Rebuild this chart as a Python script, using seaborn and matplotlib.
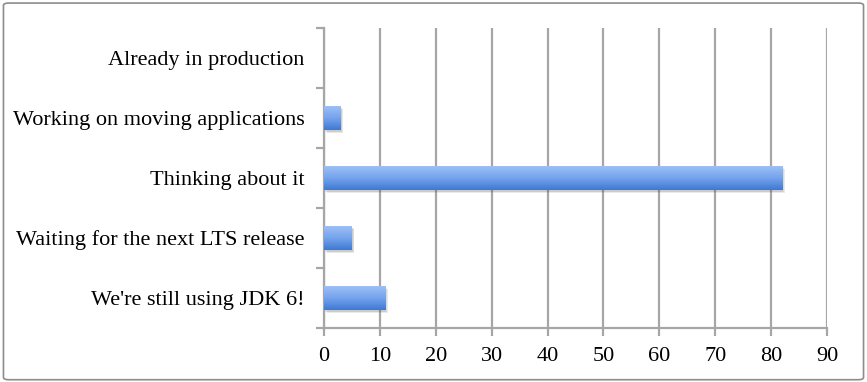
import numpy as np
import pandas as pd
import seaborn as sns
from matplotlib import pyplot as plt
from matplotlib.patches import Rectangle, FancyBboxPatch
from matplotlib.colors import LinearSegmentedColormap

# data
answers = ["Already in production",
           "Working on moving applications",
           "Thinking about it",
           "Waiting for the next LTS release",
           "We're still using JDK 6!"]
counts = [0, 3, 82, 5, 11]
xticks = list(range(0, 100, 10))

df = pd.DataFrame({"answer": answers, "count": counts})

# style
sns.set_style("white")
plt.rcParams['font.family'] = ['Liberation Serif', 'DejaVu Serif']
grid_grey = '#a6a6a6'

fig = plt.figure(figsize=(8.67, 3.82), dpi=100)
ax = fig.add_axes([0.3737, 0.1414, 0.9539 - 0.3737, 0.9267 - 0.1414])

sns.barplot(data=df, y="answer", x="count", orient="h", ax=ax,
            color='#6a9be6', width=0.4, zorder=3)

# replace flat bars by a vertical gradient + soft shadow
grad_cmap = LinearSegmentedColormap.from_list("bar", ['#9dbff5', '#74a3ec', '#3f79d3'])
gradient = np.linspace(0, 1, 64).reshape(-1, 1)
for p in ax.patches:
    x0, y0 = p.get_x(), p.get_y()
    w, h = p.get_width(), p.get_height()
    p.set_visible(False)
    for k, a in enumerate([0.10, 0.10, 0.12]):
        d = 0.25 + 0.25 * k
        ax.add_patch(Rectangle((x0 + d * 0.6, y0 + 0.03 + 0.01 * k), w, h,
                               facecolor='#555555', alpha=a, lw=0, zorder=2))
    if w <= 0:
        continue
    ax.imshow(gradient, extent=(x0, x0 + w, y0 + h, y0), origin='upper',
              aspect='auto', cmap=grad_cmap, zorder=4, interpolation='bilinear')

# axes limits, grid and ticks
ax.set_xlim(0, 90)
ax.set_ylim(len(answers) - 0.5, -0.5)
ax.set_xticks(xticks)
ax.set_xticklabels([str(t) for t in xticks])
ax.xaxis.grid(True, color=grid_grey, lw=1.6, zorder=0)
ax.set_axisbelow(True)
ax.set_xlabel("")
ax.set_ylabel("")

# y ticks: labels at centres, marks on category boundaries
ax.set_yticks(range(len(answers)))
ax.set_yticklabels(answers)
ax.set_yticks(np.arange(-0.5, len(answers), 1.0), minor=True)
ax.tick_params(axis='y', which='major', length=0, pad=14, labelsize=16,
               labelcolor='black')
ax.tick_params(axis='y', which='minor', length=6, width=1.6, color=grid_grey, left=True)
ax.tick_params(axis='x', which='major', length=6, width=1.6, color=grid_grey,
               bottom=True, pad=8, labelsize=16, labelcolor='black')

for side in ['top', 'right']:
    ax.spines[side].set_visible(False)
for side in ['left', 'bottom']:
    ax.spines[side].set_color(grid_grey)
    ax.spines[side].set_linewidth(1.6)

# rounded figure border
fig.patches.append(FancyBboxPatch((0.004, 0.006), 0.992, 0.986,
                                  boxstyle="round,pad=0,rounding_size=0.006",
                                  transform=fig.transFigure, fill=False,
                                  edgecolor='#8c8c8c', lw=1.2))

plt.savefig("out.png", dpi=100)
plt.close()
